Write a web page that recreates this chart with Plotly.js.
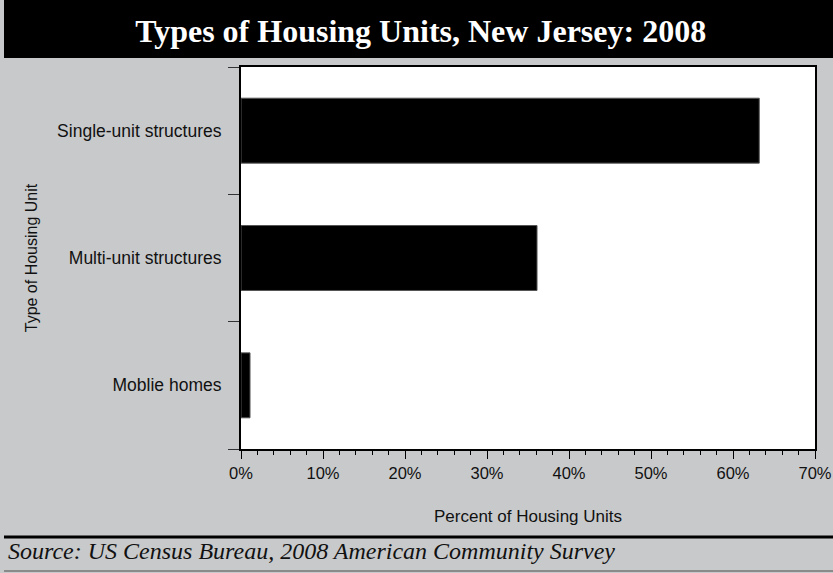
<!DOCTYPE html>
<html>
<head>
<meta charset="utf-8">
<script src="https://cdn.plot.ly/plotly-3.0.1.min.js"></script>
<style>html,body{margin:0;padding:0;background:#c8c9cb;}#chart{width:833px;height:573px;}</style>
</head>
<body>
<div id="chart"></div>
<script>
const categories = ["Moblie homes", "Multi-unit structures", "Single-unit structures"];
const percentValues = [1.1, 36.1, 63.2];
const xTickValues = [0, 10, 20, 30, 40, 50, 60, 70];
const xTickLabels = ["0%", "10%", "20%", "30%", "40%", "50%", "60%", "70%"];

const W = 833, H = 573;
const mL = 241, mR = 18, mT = 67, mB = 124;
const pw = W - mL - mR, ph = H - mT - mB;
const px = p => (p - mL) / pw;
const py = p => (H - mB - p) / ph;

const trace = {
  type: "bar",
  orientation: "h",
  y: categories,
  x: percentValues,
  marker: {color: "#000000", line: {color: "#555555", width: 1}},
  hoverinfo: "skip"
};

const layout = {
  width: W, height: H,
  margin: {l: mL, r: mR, t: mT, b: mB, pad: 0},
  paper_bgcolor: "#c8c9cb",
  plot_bgcolor: "#ffffff",
  showlegend: false,
  bargap: 0.49,
  font: {family: "Liberation Sans, Arial, sans-serif", color: "#111111", size: 16},
  title: {
    text: "Types of Housing Units, New Jersey: 2008",
    font: {family: "Liberation Serif, Times New Roman, serif", size: 32, color: "#ffffff", weight: "bold"},
    xref: "container", x: 0.505, xanchor: "center",
    yref: "container", y: 1 - 31 / H, yanchor: "middle"
  },
  xaxis: {
    range: [0, 70],
    tickvals: xTickValues,
    ticktext: xTickLabels,
    ticks: "outside", ticklen: 8, tickwidth: 1, tickcolor: "#000000",
    minor: {dtick: 2, ticks: "outside", ticklen: 4, tickwidth: 1, tickcolor: "#000000", showgrid: false},
    showgrid: false, zeroline: false,
    showline: true, mirror: true, linecolor: "#000000", linewidth: 2,
    tickfont: {size: 16.5, color: "#111111"},
    title: {text: "Percent of Housing Units", font: {size: 17, color: "#111111"}, standoff: 29},
    fixedrange: true
  },
  yaxis: {
    type: "category",
    categoryorder: "array",
    categoryarray: categories,
    tickson: "boundaries",
    ticks: "outside", ticklen: 11, tickwidth: 1, tickcolor: "#333333",
    ticklabelstandoff: 14,
    showgrid: false, zeroline: false,
    showline: true, mirror: true, linecolor: "#000000", linewidth: 2,
    tickfont: {size: 17.5, color: "#111111"},
    title: {text: "Type of Housing Unit", font: {size: 16, color: "#111111"}, standoff: 16},
    fixedrange: true
  },
  shapes: [
    {type: "rect", xref: "paper", yref: "paper", x0: px(4), x1: px(840), y0: py(58), y1: py(-5),
     fillcolor: "#000000", line: {width: 0}, layer: "above"},
    {type: "line", xref: "paper", yref: "paper", x0: px(4), x1: px(840), y0: py(537), y1: py(537),
     line: {color: "#000000", width: 3}},
    {type: "line", xref: "paper", yref: "paper", x0: px(4), x1: px(840), y0: py(571), y1: py(571),
     line: {color: "#8a8a8a", width: 2}}
  ],
  annotations: [
    {text: "Source: US Census Bureau, 2008 American Community Survey",
     xref: "paper", yref: "paper", x: px(6), y: py(551), xanchor: "left", yanchor: "middle",
     showarrow: false,
     font: {family: "Liberation Serif, Times New Roman, serif", size: 24, color: "#111111", style: "italic"}}
  ]
};

Plotly.newPlot("chart", [trace], layout, {displayModeBar: false, staticPlot: true});
</script>
</body>
</html>
